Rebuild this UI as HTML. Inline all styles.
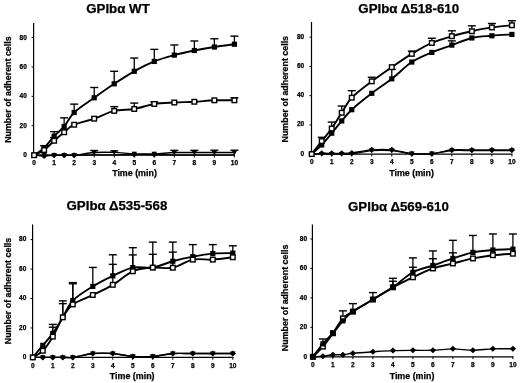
<!DOCTYPE html>
<html><head><meta charset="utf-8"><style>
html,body{margin:0;padding:0;background:#fff;}
body{width:520px;height:383px;overflow:hidden;}
svg{display:block;will-change:transform;filter:blur(0.3px);}
text{font-family:"Liberation Sans", sans-serif;fill:#000;stroke:#000;stroke-width:0.25px;}
</style></head><body>
<svg width="520" height="383" viewBox="0 0 520 383">
<rect width="520" height="383" fill="#fff"/>
<text x="118.00" y="13.00" text-anchor="middle" font-size="13.3" font-weight="bold">GPIbα WT</text>
<line x1="33.60" y1="23.00" x2="33.60" y2="155.80" stroke="#000" stroke-width="1.2"/>
<line x1="33.00" y1="155.20" x2="235.00" y2="155.20" stroke="#000" stroke-width="1.2"/>
<line x1="31.60" y1="155.20" x2="33.60" y2="155.20" stroke="#000" stroke-width="1"/>
<text x="26.85" y="157.33" text-anchor="end" font-size="6.5" font-weight="bold">0</text>
<line x1="31.60" y1="125.76" x2="33.60" y2="125.76" stroke="#000" stroke-width="1"/>
<text x="26.85" y="127.89" text-anchor="end" font-size="6.5" font-weight="bold">20</text>
<line x1="31.60" y1="96.32" x2="33.60" y2="96.32" stroke="#000" stroke-width="1"/>
<text x="26.85" y="98.45" text-anchor="end" font-size="6.5" font-weight="bold">40</text>
<line x1="31.60" y1="66.88" x2="33.60" y2="66.88" stroke="#000" stroke-width="1"/>
<text x="26.85" y="69.01" text-anchor="end" font-size="6.5" font-weight="bold">60</text>
<line x1="31.60" y1="37.44" x2="33.60" y2="37.44" stroke="#000" stroke-width="1"/>
<text x="26.85" y="39.57" text-anchor="end" font-size="6.5" font-weight="bold">80</text>
<line x1="34.10" y1="155.20" x2="34.10" y2="157.50" stroke="#000" stroke-width="1"/>
<text x="34.10" y="165.45" text-anchor="middle" font-size="6.5" font-weight="bold">0</text>
<line x1="54.13" y1="155.20" x2="54.13" y2="157.50" stroke="#000" stroke-width="1"/>
<text x="54.13" y="165.45" text-anchor="middle" font-size="6.5" font-weight="bold">1</text>
<line x1="74.16" y1="155.20" x2="74.16" y2="157.50" stroke="#000" stroke-width="1"/>
<text x="74.16" y="165.45" text-anchor="middle" font-size="6.5" font-weight="bold">2</text>
<line x1="94.19" y1="155.20" x2="94.19" y2="157.50" stroke="#000" stroke-width="1"/>
<text x="94.19" y="165.45" text-anchor="middle" font-size="6.5" font-weight="bold">3</text>
<line x1="114.22" y1="155.20" x2="114.22" y2="157.50" stroke="#000" stroke-width="1"/>
<text x="114.22" y="165.45" text-anchor="middle" font-size="6.5" font-weight="bold">4</text>
<line x1="134.25" y1="155.20" x2="134.25" y2="157.50" stroke="#000" stroke-width="1"/>
<text x="134.25" y="165.45" text-anchor="middle" font-size="6.5" font-weight="bold">5</text>
<line x1="154.28" y1="155.20" x2="154.28" y2="157.50" stroke="#000" stroke-width="1"/>
<text x="154.28" y="165.45" text-anchor="middle" font-size="6.5" font-weight="bold">6</text>
<line x1="174.31" y1="155.20" x2="174.31" y2="157.50" stroke="#000" stroke-width="1"/>
<text x="174.31" y="165.45" text-anchor="middle" font-size="6.5" font-weight="bold">7</text>
<line x1="194.34" y1="155.20" x2="194.34" y2="157.50" stroke="#000" stroke-width="1"/>
<text x="194.34" y="165.45" text-anchor="middle" font-size="6.5" font-weight="bold">8</text>
<line x1="214.37" y1="155.20" x2="214.37" y2="157.50" stroke="#000" stroke-width="1"/>
<text x="214.37" y="165.45" text-anchor="middle" font-size="6.5" font-weight="bold">9</text>
<line x1="234.40" y1="155.20" x2="234.40" y2="157.50" stroke="#000" stroke-width="1"/>
<text x="234.40" y="165.45" text-anchor="middle" font-size="6.5" font-weight="bold">10</text>
<text x="134.50" y="176.40" text-anchor="middle" font-size="8.9" font-weight="bold">Time (min)</text>
<text transform="translate(11.30,89.60) rotate(-90)" x="0" y="0" text-anchor="middle" font-size="8.9" font-weight="bold">Number of adherent cells</text>
<path d="M34.10,155.20 C35.77,153.97 40.78,151.00 44.12,147.84 C47.45,144.68 50.79,139.77 54.13,136.21 C57.47,132.65 60.81,130.45 64.15,126.50 C67.48,122.55 69.15,117.30 74.16,112.51 C79.17,107.73 87.51,102.58 94.19,97.79 C100.87,93.01 107.54,88.22 114.22,83.81 C120.90,79.39 127.57,75.03 134.25,71.30 C140.93,67.57 147.60,64.13 154.28,61.43 C160.96,58.73 167.63,56.92 174.31,55.10 C180.99,53.29 187.66,51.89 194.34,50.54 C201.02,49.19 207.69,48.06 214.37,47.01 C221.05,45.95 231.06,44.68 234.40,44.21" fill="none" stroke="#000" stroke-width="1.90"/>
<path d="M34.10,155.20 C35.77,154.34 40.78,152.45 44.12,150.05 C47.45,147.64 50.79,143.74 54.13,140.77 C57.47,137.81 60.81,134.91 64.15,132.24 C67.48,129.56 69.15,126.99 74.16,124.73 C79.17,122.47 87.51,121.00 94.19,118.69 C100.87,116.39 107.54,112.51 114.22,110.89 C120.90,109.27 127.57,110.13 134.25,108.98 C140.93,107.83 147.60,105.05 154.28,103.97 C160.96,102.89 167.63,102.87 174.31,102.50 C180.99,102.13 187.66,102.13 194.34,101.77 C201.02,101.40 207.69,100.54 214.37,100.29 C221.05,100.05 231.06,100.29 234.40,100.29" fill="none" stroke="#000" stroke-width="1.90"/>
<path d="M34.10,155.20 C35.77,155.20 40.78,155.20 44.12,155.20 C47.45,155.20 50.79,155.20 54.13,155.20 C57.47,155.20 60.81,155.20 64.15,155.20 C67.48,155.20 69.15,155.64 74.16,155.20 C79.17,154.76 87.51,153.02 94.19,152.55 C100.87,152.08 107.54,152.18 114.22,152.40 C120.90,152.62 127.57,153.63 134.25,153.88 C140.93,154.12 147.60,154.10 154.28,153.88 C160.96,153.65 167.63,152.77 174.31,152.55 C180.99,152.33 187.66,152.55 194.34,152.55 C201.02,152.55 207.69,152.55 214.37,152.55 C221.05,152.55 231.06,152.55 234.40,152.55" fill="none" stroke="#000" stroke-width="1.40"/>
<path d="M34.10,155.20 C35.77,155.35 40.78,156.08 44.12,156.08 C47.45,156.08 50.79,155.35 54.13,155.20 C57.47,155.05 60.81,155.20 64.15,155.20 C67.48,155.20 69.15,155.25 74.16,155.20 C79.17,155.15 87.51,154.95 94.19,154.91 C100.87,154.86 107.54,154.95 114.22,154.91 C120.90,154.86 127.57,154.66 134.25,154.61 C140.93,154.56 147.60,154.56 154.28,154.61 C160.96,154.66 167.63,154.86 174.31,154.91 C180.99,154.95 187.66,154.91 194.34,154.91 C201.02,154.91 207.69,154.91 214.37,154.91 C221.05,154.91 231.06,154.91 234.40,154.91" fill="none" stroke="#000" stroke-width="1.40"/>
<line x1="44.12" y1="147.84" x2="44.12" y2="145.63" stroke="#000" stroke-width="1.3"/>
<line x1="40.12" y1="145.63" x2="48.12" y2="145.63" stroke="#000" stroke-width="1.4"/>
<line x1="54.13" y1="136.21" x2="54.13" y2="131.65" stroke="#000" stroke-width="1.3"/>
<line x1="50.13" y1="131.65" x2="58.13" y2="131.65" stroke="#000" stroke-width="1.4"/>
<line x1="64.15" y1="126.50" x2="64.15" y2="117.81" stroke="#000" stroke-width="1.3"/>
<line x1="60.15" y1="117.81" x2="68.15" y2="117.81" stroke="#000" stroke-width="1.4"/>
<line x1="74.16" y1="112.51" x2="74.16" y2="104.12" stroke="#000" stroke-width="1.3"/>
<line x1="70.16" y1="104.12" x2="78.16" y2="104.12" stroke="#000" stroke-width="1.4"/>
<line x1="94.19" y1="97.79" x2="94.19" y2="87.49" stroke="#000" stroke-width="1.3"/>
<line x1="90.19" y1="87.49" x2="98.19" y2="87.49" stroke="#000" stroke-width="1.4"/>
<line x1="114.22" y1="83.81" x2="114.22" y2="71.30" stroke="#000" stroke-width="1.3"/>
<line x1="110.22" y1="71.30" x2="118.22" y2="71.30" stroke="#000" stroke-width="1.4"/>
<line x1="134.25" y1="71.30" x2="134.25" y2="58.05" stroke="#000" stroke-width="1.3"/>
<line x1="130.25" y1="58.05" x2="138.25" y2="58.05" stroke="#000" stroke-width="1.4"/>
<line x1="154.28" y1="61.43" x2="154.28" y2="49.36" stroke="#000" stroke-width="1.3"/>
<line x1="150.28" y1="49.36" x2="158.28" y2="49.36" stroke="#000" stroke-width="1.4"/>
<line x1="174.31" y1="55.10" x2="174.31" y2="44.95" stroke="#000" stroke-width="1.3"/>
<line x1="170.31" y1="44.95" x2="178.31" y2="44.95" stroke="#000" stroke-width="1.4"/>
<line x1="194.34" y1="50.54" x2="194.34" y2="40.97" stroke="#000" stroke-width="1.3"/>
<line x1="190.34" y1="40.97" x2="198.34" y2="40.97" stroke="#000" stroke-width="1.4"/>
<line x1="214.37" y1="47.01" x2="214.37" y2="38.76" stroke="#000" stroke-width="1.3"/>
<line x1="210.37" y1="38.76" x2="218.37" y2="38.76" stroke="#000" stroke-width="1.4"/>
<line x1="234.40" y1="44.21" x2="234.40" y2="36.12" stroke="#000" stroke-width="1.3"/>
<line x1="230.40" y1="36.12" x2="238.40" y2="36.12" stroke="#000" stroke-width="1.4"/>
<line x1="54.13" y1="140.77" x2="54.13" y2="137.54" stroke="#000" stroke-width="1.3"/>
<line x1="50.13" y1="137.54" x2="58.13" y2="137.54" stroke="#000" stroke-width="1.4"/>
<line x1="64.15" y1="132.24" x2="64.15" y2="129.44" stroke="#000" stroke-width="1.3"/>
<line x1="60.15" y1="129.44" x2="68.15" y2="129.44" stroke="#000" stroke-width="1.4"/>
<line x1="114.22" y1="110.89" x2="114.22" y2="106.62" stroke="#000" stroke-width="1.3"/>
<line x1="110.22" y1="106.62" x2="118.22" y2="106.62" stroke="#000" stroke-width="1.4"/>
<line x1="134.25" y1="108.98" x2="134.25" y2="103.09" stroke="#000" stroke-width="1.3"/>
<line x1="130.25" y1="103.09" x2="138.25" y2="103.09" stroke="#000" stroke-width="1.4"/>
<line x1="154.28" y1="103.97" x2="154.28" y2="101.91" stroke="#000" stroke-width="1.3"/>
<line x1="150.28" y1="101.91" x2="158.28" y2="101.91" stroke="#000" stroke-width="1.4"/>
<line x1="234.40" y1="100.29" x2="234.40" y2="97.79" stroke="#000" stroke-width="1.3"/>
<line x1="230.40" y1="97.79" x2="238.40" y2="97.79" stroke="#000" stroke-width="1.4"/>
<line x1="94.19" y1="152.55" x2="94.19" y2="150.49" stroke="#000" stroke-width="1.3"/>
<line x1="90.19" y1="150.49" x2="98.19" y2="150.49" stroke="#000" stroke-width="1.4"/>
<line x1="114.22" y1="152.40" x2="114.22" y2="150.93" stroke="#000" stroke-width="1.3"/>
<line x1="110.22" y1="150.93" x2="118.22" y2="150.93" stroke="#000" stroke-width="1.4"/>
<line x1="174.31" y1="152.55" x2="174.31" y2="150.34" stroke="#000" stroke-width="1.3"/>
<line x1="170.31" y1="150.34" x2="178.31" y2="150.34" stroke="#000" stroke-width="1.4"/>
<line x1="194.34" y1="152.55" x2="194.34" y2="150.34" stroke="#000" stroke-width="1.3"/>
<line x1="190.34" y1="150.34" x2="198.34" y2="150.34" stroke="#000" stroke-width="1.4"/>
<line x1="214.37" y1="152.55" x2="214.37" y2="150.20" stroke="#000" stroke-width="1.3"/>
<line x1="210.37" y1="150.20" x2="218.37" y2="150.20" stroke="#000" stroke-width="1.4"/>
<line x1="234.40" y1="152.55" x2="234.40" y2="150.20" stroke="#000" stroke-width="1.3"/>
<line x1="230.40" y1="150.20" x2="238.40" y2="150.20" stroke="#000" stroke-width="1.4"/>
<path d="M30.90,155.20L34.10,152.20L37.30,155.20L34.10,158.20Z" fill="#000"/>
<path d="M40.91,156.08L44.12,153.08L47.32,156.08L44.12,159.08Z" fill="#000"/>
<path d="M50.93,155.20L54.13,152.20L57.33,155.20L54.13,158.20Z" fill="#000"/>
<path d="M60.95,155.20L64.15,152.20L67.35,155.20L64.15,158.20Z" fill="#000"/>
<path d="M70.96,155.20L74.16,152.20L77.36,155.20L74.16,158.20Z" fill="#000"/>
<path d="M131.05,154.61L134.25,151.61L137.45,154.61L134.25,157.61Z" fill="#000"/>
<path d="M151.08,154.61L154.28,151.61L157.48,154.61L154.28,157.61Z" fill="#000"/>
<path d="M31.30,153.04L36.90,153.04L34.10,157.84Z" fill="#000"/>
<path d="M41.32,153.04L46.91,153.04L44.12,157.84Z" fill="#000"/>
<path d="M51.33,153.04L56.93,153.04L54.13,157.84Z" fill="#000"/>
<path d="M61.35,153.04L66.95,153.04L64.15,157.84Z" fill="#000"/>
<path d="M71.36,153.04L76.96,153.04L74.16,157.84Z" fill="#000"/>
<path d="M91.39,150.39L96.99,150.39L94.19,155.19Z" fill="#000"/>
<path d="M111.42,150.24L117.02,150.24L114.22,155.04Z" fill="#000"/>
<path d="M131.45,151.72L137.05,151.72L134.25,156.52Z" fill="#000"/>
<path d="M151.48,151.72L157.08,151.72L154.28,156.52Z" fill="#000"/>
<path d="M171.51,150.39L177.11,150.39L174.31,155.19Z" fill="#000"/>
<path d="M191.54,150.39L197.14,150.39L194.34,155.19Z" fill="#000"/>
<path d="M211.57,150.39L217.17,150.39L214.37,155.19Z" fill="#000"/>
<path d="M231.60,150.39L237.20,150.39L234.40,155.19Z" fill="#000"/>
<rect x="31.50" y="152.60" width="5.20" height="5.20" fill="#000"/>
<rect x="41.52" y="145.24" width="5.20" height="5.20" fill="#000"/>
<rect x="51.53" y="133.61" width="5.20" height="5.20" fill="#000"/>
<rect x="61.55" y="123.90" width="5.20" height="5.20" fill="#000"/>
<rect x="71.56" y="109.91" width="5.20" height="5.20" fill="#000"/>
<rect x="91.59" y="95.19" width="5.20" height="5.20" fill="#000"/>
<rect x="111.62" y="81.21" width="5.20" height="5.20" fill="#000"/>
<rect x="131.65" y="68.70" width="5.20" height="5.20" fill="#000"/>
<rect x="151.68" y="58.83" width="5.20" height="5.20" fill="#000"/>
<rect x="171.71" y="52.50" width="5.20" height="5.20" fill="#000"/>
<rect x="191.74" y="47.94" width="5.20" height="5.20" fill="#000"/>
<rect x="211.77" y="44.41" width="5.20" height="5.20" fill="#000"/>
<rect x="231.80" y="41.61" width="5.20" height="5.20" fill="#000"/>
<rect x="31.80" y="152.90" width="4.60" height="4.60" fill="#fff" stroke="#000" stroke-width="1.4"/>
<rect x="41.82" y="147.75" width="4.60" height="4.60" fill="#fff" stroke="#000" stroke-width="1.4"/>
<rect x="51.83" y="138.47" width="4.60" height="4.60" fill="#fff" stroke="#000" stroke-width="1.4"/>
<rect x="61.85" y="129.94" width="4.60" height="4.60" fill="#fff" stroke="#000" stroke-width="1.4"/>
<rect x="71.86" y="122.43" width="4.60" height="4.60" fill="#fff" stroke="#000" stroke-width="1.4"/>
<rect x="91.89" y="116.39" width="4.60" height="4.60" fill="#fff" stroke="#000" stroke-width="1.4"/>
<rect x="111.92" y="108.59" width="4.60" height="4.60" fill="#fff" stroke="#000" stroke-width="1.4"/>
<rect x="131.95" y="106.68" width="4.60" height="4.60" fill="#fff" stroke="#000" stroke-width="1.4"/>
<rect x="151.98" y="101.67" width="4.60" height="4.60" fill="#fff" stroke="#000" stroke-width="1.4"/>
<rect x="172.01" y="100.20" width="4.60" height="4.60" fill="#fff" stroke="#000" stroke-width="1.4"/>
<rect x="192.04" y="99.47" width="4.60" height="4.60" fill="#fff" stroke="#000" stroke-width="1.4"/>
<rect x="212.07" y="97.99" width="4.60" height="4.60" fill="#fff" stroke="#000" stroke-width="1.4"/>
<rect x="232.10" y="97.99" width="4.60" height="4.60" fill="#fff" stroke="#000" stroke-width="1.4"/>
<text x="408.70" y="13.20" text-anchor="middle" font-size="13.3" font-weight="bold">GPIbα Δ518-610</text>
<line x1="311.50" y1="22.00" x2="311.50" y2="154.70" stroke="#000" stroke-width="1.2"/>
<line x1="310.90" y1="154.10" x2="512.50" y2="154.10" stroke="#000" stroke-width="1.2"/>
<line x1="309.50" y1="154.10" x2="311.50" y2="154.10" stroke="#000" stroke-width="1"/>
<text x="304.15" y="155.63" text-anchor="end" font-size="6.5" font-weight="bold">0</text>
<line x1="309.50" y1="124.88" x2="311.50" y2="124.88" stroke="#000" stroke-width="1"/>
<text x="304.15" y="126.41" text-anchor="end" font-size="6.5" font-weight="bold">20</text>
<line x1="309.50" y1="95.66" x2="311.50" y2="95.66" stroke="#000" stroke-width="1"/>
<text x="304.15" y="97.19" text-anchor="end" font-size="6.5" font-weight="bold">40</text>
<line x1="309.50" y1="66.44" x2="311.50" y2="66.44" stroke="#000" stroke-width="1"/>
<text x="304.15" y="67.97" text-anchor="end" font-size="6.5" font-weight="bold">60</text>
<line x1="309.50" y1="37.22" x2="311.50" y2="37.22" stroke="#000" stroke-width="1"/>
<text x="304.15" y="38.75" text-anchor="end" font-size="6.5" font-weight="bold">80</text>
<line x1="311.70" y1="154.10" x2="311.70" y2="156.40" stroke="#000" stroke-width="1"/>
<text x="311.70" y="164.35" text-anchor="middle" font-size="6.5" font-weight="bold">0</text>
<line x1="331.72" y1="154.10" x2="331.72" y2="156.40" stroke="#000" stroke-width="1"/>
<text x="331.72" y="164.35" text-anchor="middle" font-size="6.5" font-weight="bold">1</text>
<line x1="351.74" y1="154.10" x2="351.74" y2="156.40" stroke="#000" stroke-width="1"/>
<text x="351.74" y="164.35" text-anchor="middle" font-size="6.5" font-weight="bold">2</text>
<line x1="371.76" y1="154.10" x2="371.76" y2="156.40" stroke="#000" stroke-width="1"/>
<text x="371.76" y="164.35" text-anchor="middle" font-size="6.5" font-weight="bold">3</text>
<line x1="391.78" y1="154.10" x2="391.78" y2="156.40" stroke="#000" stroke-width="1"/>
<text x="391.78" y="164.35" text-anchor="middle" font-size="6.5" font-weight="bold">4</text>
<line x1="411.80" y1="154.10" x2="411.80" y2="156.40" stroke="#000" stroke-width="1"/>
<text x="411.80" y="164.35" text-anchor="middle" font-size="6.5" font-weight="bold">5</text>
<line x1="431.82" y1="154.10" x2="431.82" y2="156.40" stroke="#000" stroke-width="1"/>
<text x="431.82" y="164.35" text-anchor="middle" font-size="6.5" font-weight="bold">6</text>
<line x1="451.84" y1="154.10" x2="451.84" y2="156.40" stroke="#000" stroke-width="1"/>
<text x="451.84" y="164.35" text-anchor="middle" font-size="6.5" font-weight="bold">7</text>
<line x1="471.86" y1="154.10" x2="471.86" y2="156.40" stroke="#000" stroke-width="1"/>
<text x="471.86" y="164.35" text-anchor="middle" font-size="6.5" font-weight="bold">8</text>
<line x1="491.88" y1="154.10" x2="491.88" y2="156.40" stroke="#000" stroke-width="1"/>
<text x="491.88" y="164.35" text-anchor="middle" font-size="6.5" font-weight="bold">9</text>
<line x1="511.90" y1="154.10" x2="511.90" y2="156.40" stroke="#000" stroke-width="1"/>
<text x="511.90" y="164.35" text-anchor="middle" font-size="6.5" font-weight="bold">10</text>
<text x="411.60" y="176.40" text-anchor="middle" font-size="8.9" font-weight="bold">Time (min)</text>
<text transform="translate(288.00,89.20) rotate(-90)" x="0" y="0" text-anchor="middle" font-size="8.9" font-weight="bold">Number of adherent cells</text>
<path d="M311.70,154.10 C313.37,152.57 318.37,148.38 321.71,144.90 C325.05,141.41 328.38,137.20 331.72,133.21 C335.06,129.21 338.39,124.86 341.73,120.94 C345.07,117.01 346.74,114.29 351.74,109.69 C356.75,105.08 365.09,98.46 371.76,93.32 C378.43,88.18 385.11,84.07 391.78,78.86 C398.45,73.65 405.13,66.46 411.80,62.06 C418.47,57.65 425.15,55.24 431.82,52.41 C438.49,49.59 445.17,47.52 451.84,45.11 C458.51,42.70 465.19,39.51 471.86,37.95 C478.53,36.39 485.21,36.34 491.88,35.76 C498.55,35.17 508.56,34.66 511.90,34.44" fill="none" stroke="#000" stroke-width="1.90"/>
<path d="M311.70,154.10 C313.37,151.93 318.37,145.36 321.71,141.10 C325.05,136.84 328.38,133.26 331.72,128.53 C335.06,123.81 338.39,117.89 341.73,112.75 C345.07,107.62 346.74,102.94 351.74,97.71 C356.75,92.47 365.09,86.43 371.76,81.34 C378.43,76.25 385.11,71.75 391.78,67.17 C398.45,62.59 405.13,57.92 411.80,53.88 C418.47,49.83 425.15,45.86 431.82,42.92 C438.49,39.97 445.17,38.15 451.84,36.20 C458.51,34.25 465.19,32.69 471.86,31.23 C478.53,29.77 485.21,28.43 491.88,27.43 C498.55,26.43 508.56,25.61 511.90,25.24" fill="none" stroke="#000" stroke-width="1.90"/>
<path d="M311.70,154.10 C313.37,154.10 318.37,154.10 321.71,154.10 C325.05,154.10 328.38,154.10 331.72,154.10 C335.06,154.10 338.39,154.10 341.73,154.10 C345.07,154.10 346.74,154.68 351.74,154.10 C356.75,153.52 365.09,151.18 371.76,150.59 C378.43,150.01 385.11,150.08 391.78,150.59 C398.45,151.10 405.13,153.15 411.80,153.66 C418.47,154.17 425.15,154.17 431.82,153.66 C438.49,153.15 445.17,151.10 451.84,150.59 C458.51,150.08 465.19,150.59 471.86,150.59 C478.53,150.59 485.21,150.59 491.88,150.59 C498.55,150.59 508.56,150.59 511.90,150.59" fill="none" stroke="#000" stroke-width="1.40"/>
<path d="M311.70,154.10 C313.37,153.98 318.37,153.49 321.71,153.37 C325.05,153.25 328.38,153.37 331.72,153.37 C335.06,153.37 338.39,153.44 341.73,153.37 C345.07,153.30 346.74,153.52 351.74,152.93 C356.75,152.35 365.09,150.37 371.76,149.86 C378.43,149.35 385.11,149.23 391.78,149.86 C398.45,150.50 405.13,153.03 411.80,153.66 C418.47,154.29 425.15,154.27 431.82,153.66 C438.49,153.05 445.17,150.62 451.84,150.01 C458.51,149.40 465.19,150.01 471.86,150.01 C478.53,150.01 485.21,150.01 491.88,150.01 C498.55,150.01 508.56,150.01 511.90,150.01" fill="none" stroke="#000" stroke-width="1.40"/>
<line x1="391.78" y1="78.86" x2="391.78" y2="69.36" stroke="#000" stroke-width="1.3"/>
<line x1="387.78" y1="69.36" x2="395.78" y2="69.36" stroke="#000" stroke-width="1.4"/>
<line x1="451.84" y1="45.11" x2="451.84" y2="40.87" stroke="#000" stroke-width="1.3"/>
<line x1="447.84" y1="40.87" x2="455.84" y2="40.87" stroke="#000" stroke-width="1.4"/>
<line x1="321.71" y1="141.10" x2="321.71" y2="137.30" stroke="#000" stroke-width="1.3"/>
<line x1="317.71" y1="137.30" x2="325.71" y2="137.30" stroke="#000" stroke-width="1.4"/>
<line x1="331.72" y1="128.53" x2="331.72" y2="122.10" stroke="#000" stroke-width="1.3"/>
<line x1="327.72" y1="122.10" x2="335.72" y2="122.10" stroke="#000" stroke-width="1.4"/>
<line x1="341.73" y1="112.75" x2="341.73" y2="106.03" stroke="#000" stroke-width="1.3"/>
<line x1="337.73" y1="106.03" x2="345.73" y2="106.03" stroke="#000" stroke-width="1.4"/>
<line x1="351.74" y1="97.71" x2="351.74" y2="90.69" stroke="#000" stroke-width="1.3"/>
<line x1="347.74" y1="90.69" x2="355.74" y2="90.69" stroke="#000" stroke-width="1.4"/>
<line x1="371.76" y1="81.34" x2="371.76" y2="77.25" stroke="#000" stroke-width="1.3"/>
<line x1="367.76" y1="77.25" x2="375.76" y2="77.25" stroke="#000" stroke-width="1.4"/>
<line x1="411.80" y1="53.88" x2="411.80" y2="51.10" stroke="#000" stroke-width="1.3"/>
<line x1="407.80" y1="51.10" x2="415.80" y2="51.10" stroke="#000" stroke-width="1.4"/>
<line x1="431.82" y1="42.92" x2="431.82" y2="38.24" stroke="#000" stroke-width="1.3"/>
<line x1="427.82" y1="38.24" x2="435.82" y2="38.24" stroke="#000" stroke-width="1.4"/>
<line x1="451.84" y1="36.20" x2="451.84" y2="30.79" stroke="#000" stroke-width="1.3"/>
<line x1="447.84" y1="30.79" x2="455.84" y2="30.79" stroke="#000" stroke-width="1.4"/>
<line x1="471.86" y1="31.23" x2="471.86" y2="25.82" stroke="#000" stroke-width="1.3"/>
<line x1="467.86" y1="25.82" x2="475.86" y2="25.82" stroke="#000" stroke-width="1.4"/>
<line x1="491.88" y1="27.43" x2="491.88" y2="23.49" stroke="#000" stroke-width="1.3"/>
<line x1="487.88" y1="23.49" x2="495.88" y2="23.49" stroke="#000" stroke-width="1.4"/>
<line x1="511.90" y1="25.24" x2="511.90" y2="20.71" stroke="#000" stroke-width="1.3"/>
<line x1="507.90" y1="20.71" x2="515.90" y2="20.71" stroke="#000" stroke-width="1.4"/>
<path d="M308.50,154.10L311.70,151.10L314.90,154.10L311.70,157.10Z" fill="#000"/>
<path d="M318.51,153.37L321.71,150.37L324.91,153.37L321.71,156.37Z" fill="#000"/>
<path d="M328.52,153.37L331.72,150.37L334.92,153.37L331.72,156.37Z" fill="#000"/>
<path d="M338.53,153.37L341.73,150.37L344.93,153.37L341.73,156.37Z" fill="#000"/>
<path d="M348.54,152.93L351.74,149.93L354.94,152.93L351.74,155.93Z" fill="#000"/>
<path d="M368.56,149.86L371.76,146.86L374.96,149.86L371.76,152.86Z" fill="#000"/>
<path d="M388.58,149.86L391.78,146.86L394.98,149.86L391.78,152.86Z" fill="#000"/>
<path d="M408.60,153.66L411.80,150.66L415.00,153.66L411.80,156.66Z" fill="#000"/>
<path d="M428.62,153.66L431.82,150.66L435.02,153.66L431.82,156.66Z" fill="#000"/>
<path d="M448.64,150.01L451.84,147.01L455.04,150.01L451.84,153.01Z" fill="#000"/>
<path d="M468.66,150.01L471.86,147.01L475.06,150.01L471.86,153.01Z" fill="#000"/>
<path d="M488.68,150.01L491.88,147.01L495.08,150.01L491.88,153.01Z" fill="#000"/>
<path d="M508.70,150.01L511.90,147.01L515.10,150.01L511.90,153.01Z" fill="#000"/>
<path d="M308.90,151.94L314.50,151.94L311.70,156.74Z" fill="#000"/>
<path d="M318.91,151.94L324.51,151.94L321.71,156.74Z" fill="#000"/>
<path d="M328.92,151.94L334.52,151.94L331.72,156.74Z" fill="#000"/>
<path d="M338.93,151.94L344.53,151.94L341.73,156.74Z" fill="#000"/>
<path d="M348.94,151.94L354.54,151.94L351.74,156.74Z" fill="#000"/>
<path d="M368.96,148.43L374.56,148.43L371.76,153.23Z" fill="#000"/>
<path d="M388.98,148.43L394.58,148.43L391.78,153.23Z" fill="#000"/>
<path d="M409.00,151.50L414.60,151.50L411.80,156.30Z" fill="#000"/>
<path d="M429.02,151.50L434.62,151.50L431.82,156.30Z" fill="#000"/>
<path d="M449.04,148.43L454.64,148.43L451.84,153.23Z" fill="#000"/>
<path d="M469.06,148.43L474.66,148.43L471.86,153.23Z" fill="#000"/>
<path d="M489.08,148.43L494.68,148.43L491.88,153.23Z" fill="#000"/>
<path d="M509.10,148.43L514.70,148.43L511.90,153.23Z" fill="#000"/>
<rect x="309.10" y="151.50" width="5.20" height="5.20" fill="#000"/>
<rect x="319.11" y="142.30" width="5.20" height="5.20" fill="#000"/>
<rect x="329.12" y="130.61" width="5.20" height="5.20" fill="#000"/>
<rect x="339.13" y="118.34" width="5.20" height="5.20" fill="#000"/>
<rect x="349.14" y="107.09" width="5.20" height="5.20" fill="#000"/>
<rect x="369.16" y="90.72" width="5.20" height="5.20" fill="#000"/>
<rect x="389.18" y="76.26" width="5.20" height="5.20" fill="#000"/>
<rect x="409.20" y="59.46" width="5.20" height="5.20" fill="#000"/>
<rect x="429.22" y="49.81" width="5.20" height="5.20" fill="#000"/>
<rect x="449.24" y="42.51" width="5.20" height="5.20" fill="#000"/>
<rect x="469.26" y="35.35" width="5.20" height="5.20" fill="#000"/>
<rect x="489.28" y="33.16" width="5.20" height="5.20" fill="#000"/>
<rect x="509.30" y="31.84" width="5.20" height="5.20" fill="#000"/>
<rect x="309.40" y="151.80" width="4.60" height="4.60" fill="#fff" stroke="#000" stroke-width="1.4"/>
<rect x="319.41" y="138.80" width="4.60" height="4.60" fill="#fff" stroke="#000" stroke-width="1.4"/>
<rect x="329.42" y="126.23" width="4.60" height="4.60" fill="#fff" stroke="#000" stroke-width="1.4"/>
<rect x="339.43" y="110.45" width="4.60" height="4.60" fill="#fff" stroke="#000" stroke-width="1.4"/>
<rect x="349.44" y="95.41" width="4.60" height="4.60" fill="#fff" stroke="#000" stroke-width="1.4"/>
<rect x="369.46" y="79.04" width="4.60" height="4.60" fill="#fff" stroke="#000" stroke-width="1.4"/>
<rect x="389.48" y="64.87" width="4.60" height="4.60" fill="#fff" stroke="#000" stroke-width="1.4"/>
<rect x="409.50" y="51.58" width="4.60" height="4.60" fill="#fff" stroke="#000" stroke-width="1.4"/>
<rect x="429.52" y="40.62" width="4.60" height="4.60" fill="#fff" stroke="#000" stroke-width="1.4"/>
<rect x="449.54" y="33.90" width="4.60" height="4.60" fill="#fff" stroke="#000" stroke-width="1.4"/>
<rect x="469.56" y="28.93" width="4.60" height="4.60" fill="#fff" stroke="#000" stroke-width="1.4"/>
<rect x="489.58" y="25.13" width="4.60" height="4.60" fill="#fff" stroke="#000" stroke-width="1.4"/>
<rect x="509.60" y="22.94" width="4.60" height="4.60" fill="#fff" stroke="#000" stroke-width="1.4"/>
<text x="116.90" y="210.00" text-anchor="middle" font-size="13.3" font-weight="bold">GPIbα Δ535-568</text>
<line x1="32.60" y1="224.40" x2="32.60" y2="358.00" stroke="#000" stroke-width="1.2"/>
<line x1="32.00" y1="357.40" x2="233.40" y2="357.40" stroke="#000" stroke-width="1.2"/>
<line x1="30.60" y1="357.40" x2="32.60" y2="357.40" stroke="#000" stroke-width="1"/>
<text x="26.35" y="359.03" text-anchor="end" font-size="6.5" font-weight="bold">0</text>
<line x1="30.60" y1="327.95" x2="32.60" y2="327.95" stroke="#000" stroke-width="1"/>
<text x="26.35" y="329.58" text-anchor="end" font-size="6.5" font-weight="bold">20</text>
<line x1="30.60" y1="298.50" x2="32.60" y2="298.50" stroke="#000" stroke-width="1"/>
<text x="26.35" y="300.13" text-anchor="end" font-size="6.5" font-weight="bold">40</text>
<line x1="30.60" y1="269.05" x2="32.60" y2="269.05" stroke="#000" stroke-width="1"/>
<text x="26.35" y="270.68" text-anchor="end" font-size="6.5" font-weight="bold">60</text>
<line x1="30.60" y1="239.60" x2="32.60" y2="239.60" stroke="#000" stroke-width="1"/>
<text x="26.35" y="241.23" text-anchor="end" font-size="6.5" font-weight="bold">80</text>
<line x1="32.80" y1="357.40" x2="32.80" y2="359.70" stroke="#000" stroke-width="1"/>
<text x="32.80" y="367.65" text-anchor="middle" font-size="6.5" font-weight="bold">0</text>
<line x1="52.80" y1="357.40" x2="52.80" y2="359.70" stroke="#000" stroke-width="1"/>
<text x="52.80" y="367.65" text-anchor="middle" font-size="6.5" font-weight="bold">1</text>
<line x1="72.80" y1="357.40" x2="72.80" y2="359.70" stroke="#000" stroke-width="1"/>
<text x="72.80" y="367.65" text-anchor="middle" font-size="6.5" font-weight="bold">2</text>
<line x1="92.80" y1="357.40" x2="92.80" y2="359.70" stroke="#000" stroke-width="1"/>
<text x="92.80" y="367.65" text-anchor="middle" font-size="6.5" font-weight="bold">3</text>
<line x1="112.80" y1="357.40" x2="112.80" y2="359.70" stroke="#000" stroke-width="1"/>
<text x="112.80" y="367.65" text-anchor="middle" font-size="6.5" font-weight="bold">4</text>
<line x1="132.80" y1="357.40" x2="132.80" y2="359.70" stroke="#000" stroke-width="1"/>
<text x="132.80" y="367.65" text-anchor="middle" font-size="6.5" font-weight="bold">5</text>
<line x1="152.80" y1="357.40" x2="152.80" y2="359.70" stroke="#000" stroke-width="1"/>
<text x="152.80" y="367.65" text-anchor="middle" font-size="6.5" font-weight="bold">6</text>
<line x1="172.80" y1="357.40" x2="172.80" y2="359.70" stroke="#000" stroke-width="1"/>
<text x="172.80" y="367.65" text-anchor="middle" font-size="6.5" font-weight="bold">7</text>
<line x1="192.80" y1="357.40" x2="192.80" y2="359.70" stroke="#000" stroke-width="1"/>
<text x="192.80" y="367.65" text-anchor="middle" font-size="6.5" font-weight="bold">8</text>
<line x1="212.80" y1="357.40" x2="212.80" y2="359.70" stroke="#000" stroke-width="1"/>
<text x="212.80" y="367.65" text-anchor="middle" font-size="6.5" font-weight="bold">9</text>
<line x1="232.80" y1="357.40" x2="232.80" y2="359.70" stroke="#000" stroke-width="1"/>
<text x="232.80" y="367.65" text-anchor="middle" font-size="6.5" font-weight="bold">10</text>
<text x="132.20" y="379.40" text-anchor="middle" font-size="8.9" font-weight="bold">Time (min)</text>
<text transform="translate(10.70,291.00) rotate(-90)" x="0" y="0" text-anchor="middle" font-size="8.9" font-weight="bold">Number of adherent cells</text>
<path d="M32.80,357.40 C34.47,355.39 39.47,349.33 42.80,345.33 C46.13,341.33 49.47,338.06 52.80,333.40 C56.13,328.74 59.47,322.82 62.80,317.35 C66.13,311.88 67.80,305.72 72.80,300.56 C77.80,295.41 86.13,290.55 92.80,286.43 C99.47,282.30 106.13,278.96 112.80,275.82 C119.47,272.68 126.13,268.95 132.80,267.58 C139.47,266.20 146.13,268.63 152.80,267.58 C159.47,266.52 166.13,263.06 172.80,261.25 C179.47,259.43 186.13,257.96 192.80,256.68 C199.47,255.40 206.13,254.18 212.80,253.59 C219.47,253.00 229.47,253.22 232.80,253.15" fill="none" stroke="#000" stroke-width="1.90"/>
<path d="M32.80,357.40 C34.47,356.30 39.47,354.23 42.80,350.77 C46.13,347.31 49.47,342.21 52.80,336.64 C56.13,331.07 59.47,322.72 62.80,317.35 C66.13,311.97 67.80,308.12 72.80,304.39 C77.80,300.66 86.13,298.23 92.80,294.97 C99.47,291.70 106.13,288.76 112.80,284.81 C119.47,280.85 126.13,274.13 132.80,271.26 C139.47,268.39 146.13,268.17 152.80,267.58 C159.47,266.99 166.13,269.05 172.80,267.72 C179.47,266.40 186.13,260.98 192.80,259.63 C199.47,258.28 206.13,260.02 212.80,259.63 C219.47,259.23 229.47,257.66 232.80,257.27" fill="none" stroke="#000" stroke-width="1.90"/>
<path d="M32.80,357.40 C34.47,357.40 39.47,357.40 42.80,357.40 C46.13,357.40 49.47,357.40 52.80,357.40 C56.13,357.40 59.47,357.40 62.80,357.40 C66.13,357.40 67.80,358.04 72.80,357.40 C77.80,356.76 86.13,354.21 92.80,353.57 C99.47,352.93 106.13,353.08 112.80,353.57 C119.47,354.06 126.13,356.03 132.80,356.52 C139.47,357.01 146.13,357.01 152.80,356.52 C159.47,356.03 166.13,354.06 172.80,353.57 C179.47,353.08 186.13,353.57 192.80,353.57 C199.47,353.57 206.13,353.57 212.80,353.57 C219.47,353.57 229.47,353.57 232.80,353.57" fill="none" stroke="#000" stroke-width="1.40"/>
<path d="M32.80,357.40 C34.47,357.40 39.47,357.40 42.80,357.40 C46.13,357.40 49.47,357.40 52.80,357.40 C56.13,357.40 59.47,357.40 62.80,357.40 C66.13,357.40 67.80,358.04 72.80,357.40 C77.80,356.76 86.13,354.21 92.80,353.57 C99.47,352.93 106.13,353.08 112.80,353.57 C119.47,354.06 126.13,356.03 132.80,356.52 C139.47,357.01 146.13,357.01 152.80,356.52 C159.47,356.03 166.13,354.06 172.80,353.57 C179.47,353.08 186.13,353.57 192.80,353.57 C199.47,353.57 206.13,353.57 212.80,353.57 C219.47,353.57 229.47,353.57 232.80,353.57" fill="none" stroke="#000" stroke-width="1.40"/>
<line x1="52.80" y1="333.40" x2="52.80" y2="324.42" stroke="#000" stroke-width="1.3"/>
<line x1="48.80" y1="324.42" x2="56.80" y2="324.42" stroke="#000" stroke-width="1.4"/>
<line x1="62.80" y1="317.35" x2="62.80" y2="300.86" stroke="#000" stroke-width="1.3"/>
<line x1="58.80" y1="300.86" x2="66.80" y2="300.86" stroke="#000" stroke-width="1.4"/>
<line x1="72.80" y1="300.56" x2="72.80" y2="282.60" stroke="#000" stroke-width="1.3"/>
<line x1="68.80" y1="282.60" x2="76.80" y2="282.60" stroke="#000" stroke-width="1.4"/>
<line x1="92.80" y1="286.43" x2="92.80" y2="267.43" stroke="#000" stroke-width="1.3"/>
<line x1="88.80" y1="267.43" x2="96.80" y2="267.43" stroke="#000" stroke-width="1.4"/>
<line x1="112.80" y1="275.82" x2="112.80" y2="254.77" stroke="#000" stroke-width="1.3"/>
<line x1="108.80" y1="254.77" x2="116.80" y2="254.77" stroke="#000" stroke-width="1.4"/>
<line x1="132.80" y1="267.58" x2="132.80" y2="247.70" stroke="#000" stroke-width="1.3"/>
<line x1="128.80" y1="247.70" x2="136.80" y2="247.70" stroke="#000" stroke-width="1.4"/>
<line x1="152.80" y1="267.58" x2="152.80" y2="242.10" stroke="#000" stroke-width="1.3"/>
<line x1="148.80" y1="242.10" x2="156.80" y2="242.10" stroke="#000" stroke-width="1.4"/>
<line x1="172.80" y1="261.25" x2="172.80" y2="242.10" stroke="#000" stroke-width="1.3"/>
<line x1="168.80" y1="242.10" x2="176.80" y2="242.10" stroke="#000" stroke-width="1.4"/>
<line x1="192.80" y1="256.68" x2="192.80" y2="244.61" stroke="#000" stroke-width="1.3"/>
<line x1="188.80" y1="244.61" x2="196.80" y2="244.61" stroke="#000" stroke-width="1.4"/>
<line x1="212.80" y1="253.59" x2="212.80" y2="244.61" stroke="#000" stroke-width="1.3"/>
<line x1="208.80" y1="244.61" x2="216.80" y2="244.61" stroke="#000" stroke-width="1.4"/>
<line x1="232.80" y1="253.15" x2="232.80" y2="245.78" stroke="#000" stroke-width="1.3"/>
<line x1="228.80" y1="245.78" x2="236.80" y2="245.78" stroke="#000" stroke-width="1.4"/>
<line x1="52.80" y1="336.64" x2="52.80" y2="327.21" stroke="#000" stroke-width="1.3"/>
<line x1="48.80" y1="327.21" x2="56.80" y2="327.21" stroke="#000" stroke-width="1.4"/>
<line x1="62.80" y1="317.35" x2="62.80" y2="303.65" stroke="#000" stroke-width="1.3"/>
<line x1="58.80" y1="303.65" x2="66.80" y2="303.65" stroke="#000" stroke-width="1.4"/>
<line x1="72.80" y1="304.39" x2="72.80" y2="283.77" stroke="#000" stroke-width="1.3"/>
<line x1="68.80" y1="283.77" x2="76.80" y2="283.77" stroke="#000" stroke-width="1.4"/>
<line x1="112.80" y1="284.81" x2="112.80" y2="264.34" stroke="#000" stroke-width="1.3"/>
<line x1="108.80" y1="264.34" x2="116.80" y2="264.34" stroke="#000" stroke-width="1.4"/>
<line x1="132.80" y1="271.26" x2="132.80" y2="254.91" stroke="#000" stroke-width="1.3"/>
<line x1="128.80" y1="254.91" x2="136.80" y2="254.91" stroke="#000" stroke-width="1.4"/>
<line x1="152.80" y1="267.58" x2="152.80" y2="254.32" stroke="#000" stroke-width="1.3"/>
<line x1="148.80" y1="254.32" x2="156.80" y2="254.32" stroke="#000" stroke-width="1.4"/>
<line x1="172.80" y1="267.72" x2="172.80" y2="252.12" stroke="#000" stroke-width="1.3"/>
<line x1="168.80" y1="252.12" x2="176.80" y2="252.12" stroke="#000" stroke-width="1.4"/>
<path d="M29.60,357.40L32.80,354.40L36.00,357.40L32.80,360.40Z" fill="#000"/>
<path d="M39.60,357.40L42.80,354.40L46.00,357.40L42.80,360.40Z" fill="#000"/>
<path d="M49.60,357.40L52.80,354.40L56.00,357.40L52.80,360.40Z" fill="#000"/>
<path d="M59.60,357.40L62.80,354.40L66.00,357.40L62.80,360.40Z" fill="#000"/>
<path d="M69.60,357.40L72.80,354.40L76.00,357.40L72.80,360.40Z" fill="#000"/>
<path d="M89.60,353.57L92.80,350.57L96.00,353.57L92.80,356.57Z" fill="#000"/>
<path d="M109.60,353.57L112.80,350.57L116.00,353.57L112.80,356.57Z" fill="#000"/>
<path d="M129.60,356.52L132.80,353.52L136.00,356.52L132.80,359.52Z" fill="#000"/>
<path d="M149.60,356.52L152.80,353.52L156.00,356.52L152.80,359.52Z" fill="#000"/>
<path d="M169.60,353.57L172.80,350.57L176.00,353.57L172.80,356.57Z" fill="#000"/>
<path d="M189.60,353.57L192.80,350.57L196.00,353.57L192.80,356.57Z" fill="#000"/>
<path d="M209.60,353.57L212.80,350.57L216.00,353.57L212.80,356.57Z" fill="#000"/>
<path d="M229.60,353.57L232.80,350.57L236.00,353.57L232.80,356.57Z" fill="#000"/>
<path d="M30.00,355.24L35.60,355.24L32.80,360.04Z" fill="#000"/>
<path d="M40.00,355.24L45.60,355.24L42.80,360.04Z" fill="#000"/>
<path d="M50.00,355.24L55.60,355.24L52.80,360.04Z" fill="#000"/>
<path d="M60.00,355.24L65.60,355.24L62.80,360.04Z" fill="#000"/>
<path d="M70.00,355.24L75.60,355.24L72.80,360.04Z" fill="#000"/>
<path d="M90.00,351.41L95.60,351.41L92.80,356.21Z" fill="#000"/>
<path d="M110.00,351.41L115.60,351.41L112.80,356.21Z" fill="#000"/>
<path d="M130.00,354.36L135.60,354.36L132.80,359.16Z" fill="#000"/>
<path d="M150.00,354.36L155.60,354.36L152.80,359.16Z" fill="#000"/>
<path d="M170.00,351.41L175.60,351.41L172.80,356.21Z" fill="#000"/>
<path d="M190.00,351.41L195.60,351.41L192.80,356.21Z" fill="#000"/>
<path d="M210.00,351.41L215.60,351.41L212.80,356.21Z" fill="#000"/>
<path d="M230.00,351.41L235.60,351.41L232.80,356.21Z" fill="#000"/>
<rect x="30.20" y="354.80" width="5.20" height="5.20" fill="#000"/>
<rect x="40.20" y="342.73" width="5.20" height="5.20" fill="#000"/>
<rect x="50.20" y="330.80" width="5.20" height="5.20" fill="#000"/>
<rect x="60.20" y="314.75" width="5.20" height="5.20" fill="#000"/>
<rect x="70.20" y="297.96" width="5.20" height="5.20" fill="#000"/>
<rect x="90.20" y="283.83" width="5.20" height="5.20" fill="#000"/>
<rect x="110.20" y="273.22" width="5.20" height="5.20" fill="#000"/>
<rect x="130.20" y="264.98" width="5.20" height="5.20" fill="#000"/>
<rect x="150.20" y="264.98" width="5.20" height="5.20" fill="#000"/>
<rect x="170.20" y="258.65" width="5.20" height="5.20" fill="#000"/>
<rect x="190.20" y="254.08" width="5.20" height="5.20" fill="#000"/>
<rect x="210.20" y="250.99" width="5.20" height="5.20" fill="#000"/>
<rect x="230.20" y="250.55" width="5.20" height="5.20" fill="#000"/>
<rect x="30.50" y="355.10" width="4.60" height="4.60" fill="#fff" stroke="#000" stroke-width="1.4"/>
<rect x="40.50" y="348.47" width="4.60" height="4.60" fill="#fff" stroke="#000" stroke-width="1.4"/>
<rect x="50.50" y="334.34" width="4.60" height="4.60" fill="#fff" stroke="#000" stroke-width="1.4"/>
<rect x="60.50" y="315.05" width="4.60" height="4.60" fill="#fff" stroke="#000" stroke-width="1.4"/>
<rect x="70.50" y="302.09" width="4.60" height="4.60" fill="#fff" stroke="#000" stroke-width="1.4"/>
<rect x="90.50" y="292.67" width="4.60" height="4.60" fill="#fff" stroke="#000" stroke-width="1.4"/>
<rect x="110.50" y="282.51" width="4.60" height="4.60" fill="#fff" stroke="#000" stroke-width="1.4"/>
<rect x="130.50" y="268.96" width="4.60" height="4.60" fill="#fff" stroke="#000" stroke-width="1.4"/>
<rect x="150.50" y="265.28" width="4.60" height="4.60" fill="#fff" stroke="#000" stroke-width="1.4"/>
<rect x="170.50" y="265.42" width="4.60" height="4.60" fill="#fff" stroke="#000" stroke-width="1.4"/>
<rect x="190.50" y="257.33" width="4.60" height="4.60" fill="#fff" stroke="#000" stroke-width="1.4"/>
<rect x="210.50" y="257.33" width="4.60" height="4.60" fill="#fff" stroke="#000" stroke-width="1.4"/>
<rect x="230.50" y="254.97" width="4.60" height="4.60" fill="#fff" stroke="#000" stroke-width="1.4"/>
<text x="398.40" y="211.40" text-anchor="middle" font-size="13.3" font-weight="bold">GPIbα Δ569-610</text>
<line x1="312.40" y1="224.40" x2="312.40" y2="357.40" stroke="#000" stroke-width="1.2"/>
<line x1="311.80" y1="356.80" x2="513.50" y2="356.80" stroke="#000" stroke-width="1.2"/>
<line x1="310.40" y1="356.80" x2="312.40" y2="356.80" stroke="#000" stroke-width="1"/>
<text x="307.05" y="358.53" text-anchor="end" font-size="6.5" font-weight="bold">0</text>
<line x1="310.40" y1="327.35" x2="312.40" y2="327.35" stroke="#000" stroke-width="1"/>
<text x="307.05" y="329.08" text-anchor="end" font-size="6.5" font-weight="bold">20</text>
<line x1="310.40" y1="297.90" x2="312.40" y2="297.90" stroke="#000" stroke-width="1"/>
<text x="307.05" y="299.63" text-anchor="end" font-size="6.5" font-weight="bold">40</text>
<line x1="310.40" y1="268.45" x2="312.40" y2="268.45" stroke="#000" stroke-width="1"/>
<text x="307.05" y="270.18" text-anchor="end" font-size="6.5" font-weight="bold">60</text>
<line x1="310.40" y1="239.00" x2="312.40" y2="239.00" stroke="#000" stroke-width="1"/>
<text x="307.05" y="240.73" text-anchor="end" font-size="6.5" font-weight="bold">80</text>
<line x1="312.90" y1="356.80" x2="312.90" y2="359.10" stroke="#000" stroke-width="1"/>
<text x="312.90" y="367.05" text-anchor="middle" font-size="6.5" font-weight="bold">0</text>
<line x1="332.90" y1="356.80" x2="332.90" y2="359.10" stroke="#000" stroke-width="1"/>
<text x="332.90" y="367.05" text-anchor="middle" font-size="6.5" font-weight="bold">1</text>
<line x1="352.90" y1="356.80" x2="352.90" y2="359.10" stroke="#000" stroke-width="1"/>
<text x="352.90" y="367.05" text-anchor="middle" font-size="6.5" font-weight="bold">2</text>
<line x1="372.90" y1="356.80" x2="372.90" y2="359.10" stroke="#000" stroke-width="1"/>
<text x="372.90" y="367.05" text-anchor="middle" font-size="6.5" font-weight="bold">3</text>
<line x1="392.90" y1="356.80" x2="392.90" y2="359.10" stroke="#000" stroke-width="1"/>
<text x="392.90" y="367.05" text-anchor="middle" font-size="6.5" font-weight="bold">4</text>
<line x1="412.90" y1="356.80" x2="412.90" y2="359.10" stroke="#000" stroke-width="1"/>
<text x="412.90" y="367.05" text-anchor="middle" font-size="6.5" font-weight="bold">5</text>
<line x1="432.90" y1="356.80" x2="432.90" y2="359.10" stroke="#000" stroke-width="1"/>
<text x="432.90" y="367.05" text-anchor="middle" font-size="6.5" font-weight="bold">6</text>
<line x1="452.90" y1="356.80" x2="452.90" y2="359.10" stroke="#000" stroke-width="1"/>
<text x="452.90" y="367.05" text-anchor="middle" font-size="6.5" font-weight="bold">7</text>
<line x1="472.90" y1="356.80" x2="472.90" y2="359.10" stroke="#000" stroke-width="1"/>
<text x="472.90" y="367.05" text-anchor="middle" font-size="6.5" font-weight="bold">8</text>
<line x1="492.90" y1="356.80" x2="492.90" y2="359.10" stroke="#000" stroke-width="1"/>
<text x="492.90" y="367.05" text-anchor="middle" font-size="6.5" font-weight="bold">9</text>
<line x1="512.90" y1="356.80" x2="512.90" y2="359.10" stroke="#000" stroke-width="1"/>
<text x="512.90" y="367.05" text-anchor="middle" font-size="6.5" font-weight="bold">10</text>
<text x="412.00" y="379.40" text-anchor="middle" font-size="8.9" font-weight="bold">Time (min)</text>
<text transform="translate(288.40,297.90) rotate(-90)" x="0" y="0" text-anchor="middle" font-size="8.9" font-weight="bold">Number of adherent cells</text>
<path d="M312.90,356.80 C314.57,354.64 319.57,347.77 322.90,343.84 C326.23,339.92 329.57,337.07 332.90,333.24 C336.23,329.41 339.57,324.48 342.90,320.87 C346.23,317.26 347.90,315.15 352.90,311.59 C357.90,308.04 366.23,303.57 372.90,299.52 C379.57,295.47 386.23,291.84 392.90,287.30 C399.57,282.76 406.23,275.91 412.90,272.28 C419.57,268.65 426.23,267.81 432.90,265.50 C439.57,263.20 446.23,260.62 452.90,258.44 C459.57,256.25 466.23,253.80 472.90,252.40 C479.57,251.00 486.23,250.58 492.90,250.04 C499.57,249.50 509.57,249.31 512.90,249.16" fill="none" stroke="#000" stroke-width="1.90"/>
<path d="M312.90,356.80 C314.57,355.11 319.57,350.57 322.90,346.64 C326.23,342.71 329.57,337.95 332.90,333.24 C336.23,328.53 339.57,321.98 342.90,318.37 C346.23,314.76 347.90,314.74 352.90,311.59 C357.90,308.45 366.23,303.57 372.90,299.52 C379.57,295.47 386.23,291.00 392.90,287.30 C399.57,283.59 406.23,280.43 412.90,277.29 C419.57,274.14 426.23,270.76 432.90,268.45 C439.57,266.14 446.23,265.11 452.90,263.44 C459.57,261.77 466.23,259.81 472.90,258.44 C479.57,257.06 486.23,255.98 492.90,255.20 C499.57,254.41 509.57,253.97 512.90,253.73" fill="none" stroke="#000" stroke-width="1.90"/>
<path d="M312.90,356.80 C314.57,356.70 319.57,356.55 322.90,356.21 C326.23,355.87 329.57,354.98 332.90,354.74 C336.23,354.49 339.57,354.98 342.90,354.74 C346.23,354.49 347.90,353.76 352.90,353.27 C357.90,352.78 366.23,352.24 372.90,351.79 C379.57,351.35 386.23,350.86 392.90,350.62 C399.57,350.37 406.23,350.37 412.90,350.32 C419.57,350.27 426.23,350.57 432.90,350.32 C439.57,350.08 446.23,348.85 452.90,348.85 C459.57,348.85 466.23,350.32 472.90,350.32 C479.57,350.32 486.23,349.09 492.90,348.85 C499.57,348.60 509.57,348.85 512.90,348.85" fill="none" stroke="#000" stroke-width="1.40"/>
<line x1="322.90" y1="343.84" x2="322.90" y2="338.98" stroke="#000" stroke-width="1.3"/>
<line x1="318.90" y1="338.98" x2="326.90" y2="338.98" stroke="#000" stroke-width="1.4"/>
<line x1="342.90" y1="320.87" x2="342.90" y2="310.86" stroke="#000" stroke-width="1.3"/>
<line x1="338.90" y1="310.86" x2="346.90" y2="310.86" stroke="#000" stroke-width="1.4"/>
<line x1="352.90" y1="311.59" x2="352.90" y2="303.64" stroke="#000" stroke-width="1.3"/>
<line x1="348.90" y1="303.64" x2="356.90" y2="303.64" stroke="#000" stroke-width="1.4"/>
<line x1="372.90" y1="299.52" x2="372.90" y2="292.60" stroke="#000" stroke-width="1.3"/>
<line x1="368.90" y1="292.60" x2="376.90" y2="292.60" stroke="#000" stroke-width="1.4"/>
<line x1="392.90" y1="287.30" x2="392.90" y2="278.32" stroke="#000" stroke-width="1.3"/>
<line x1="388.90" y1="278.32" x2="396.90" y2="278.32" stroke="#000" stroke-width="1.4"/>
<line x1="412.90" y1="272.28" x2="412.90" y2="257.85" stroke="#000" stroke-width="1.3"/>
<line x1="408.90" y1="257.85" x2="416.90" y2="257.85" stroke="#000" stroke-width="1.4"/>
<line x1="432.90" y1="265.50" x2="432.90" y2="250.93" stroke="#000" stroke-width="1.3"/>
<line x1="428.90" y1="250.93" x2="436.90" y2="250.93" stroke="#000" stroke-width="1.4"/>
<line x1="452.90" y1="258.44" x2="452.90" y2="240.33" stroke="#000" stroke-width="1.3"/>
<line x1="448.90" y1="240.33" x2="456.90" y2="240.33" stroke="#000" stroke-width="1.4"/>
<line x1="472.90" y1="252.40" x2="472.90" y2="235.47" stroke="#000" stroke-width="1.3"/>
<line x1="468.90" y1="235.47" x2="476.90" y2="235.47" stroke="#000" stroke-width="1.4"/>
<line x1="492.90" y1="250.04" x2="492.90" y2="233.99" stroke="#000" stroke-width="1.3"/>
<line x1="488.90" y1="233.99" x2="496.90" y2="233.99" stroke="#000" stroke-width="1.4"/>
<line x1="512.90" y1="249.16" x2="512.90" y2="233.99" stroke="#000" stroke-width="1.3"/>
<line x1="508.90" y1="233.99" x2="516.90" y2="233.99" stroke="#000" stroke-width="1.4"/>
<line x1="392.90" y1="287.30" x2="392.90" y2="281.26" stroke="#000" stroke-width="1.3"/>
<line x1="388.90" y1="281.26" x2="396.90" y2="281.26" stroke="#000" stroke-width="1.4"/>
<line x1="412.90" y1="277.29" x2="412.90" y2="267.27" stroke="#000" stroke-width="1.3"/>
<line x1="408.90" y1="267.27" x2="416.90" y2="267.27" stroke="#000" stroke-width="1.4"/>
<line x1="432.90" y1="268.45" x2="432.90" y2="258.73" stroke="#000" stroke-width="1.3"/>
<line x1="428.90" y1="258.73" x2="436.90" y2="258.73" stroke="#000" stroke-width="1.4"/>
<line x1="452.90" y1="263.44" x2="452.90" y2="252.84" stroke="#000" stroke-width="1.3"/>
<line x1="448.90" y1="252.84" x2="456.90" y2="252.84" stroke="#000" stroke-width="1.4"/>
<path d="M309.70,356.80L312.90,353.80L316.10,356.80L312.90,359.80Z" fill="#000"/>
<path d="M319.70,356.21L322.90,353.21L326.10,356.21L322.90,359.21Z" fill="#000"/>
<path d="M329.70,354.74L332.90,351.74L336.10,354.74L332.90,357.74Z" fill="#000"/>
<path d="M339.70,354.74L342.90,351.74L346.10,354.74L342.90,357.74Z" fill="#000"/>
<path d="M349.70,353.27L352.90,350.27L356.10,353.27L352.90,356.27Z" fill="#000"/>
<path d="M369.70,351.79L372.90,348.79L376.10,351.79L372.90,354.79Z" fill="#000"/>
<path d="M389.70,350.62L392.90,347.62L396.10,350.62L392.90,353.62Z" fill="#000"/>
<path d="M409.70,350.32L412.90,347.32L416.10,350.32L412.90,353.32Z" fill="#000"/>
<path d="M429.70,350.32L432.90,347.32L436.10,350.32L432.90,353.32Z" fill="#000"/>
<path d="M449.70,348.85L452.90,345.85L456.10,348.85L452.90,351.85Z" fill="#000"/>
<path d="M469.70,350.32L472.90,347.32L476.10,350.32L472.90,353.32Z" fill="#000"/>
<path d="M489.70,348.85L492.90,345.85L496.10,348.85L492.90,351.85Z" fill="#000"/>
<path d="M509.70,348.85L512.90,345.85L516.10,348.85L512.90,351.85Z" fill="#000"/>
<rect x="310.60" y="354.50" width="4.60" height="4.60" fill="#fff" stroke="#000" stroke-width="1.4"/>
<rect x="320.60" y="344.34" width="4.60" height="4.60" fill="#fff" stroke="#000" stroke-width="1.4"/>
<rect x="330.60" y="330.94" width="4.60" height="4.60" fill="#fff" stroke="#000" stroke-width="1.4"/>
<rect x="340.60" y="316.07" width="4.60" height="4.60" fill="#fff" stroke="#000" stroke-width="1.4"/>
<rect x="350.60" y="309.29" width="4.60" height="4.60" fill="#fff" stroke="#000" stroke-width="1.4"/>
<rect x="370.60" y="297.22" width="4.60" height="4.60" fill="#fff" stroke="#000" stroke-width="1.4"/>
<rect x="390.60" y="285.00" width="4.60" height="4.60" fill="#fff" stroke="#000" stroke-width="1.4"/>
<rect x="410.60" y="274.99" width="4.60" height="4.60" fill="#fff" stroke="#000" stroke-width="1.4"/>
<rect x="430.60" y="266.15" width="4.60" height="4.60" fill="#fff" stroke="#000" stroke-width="1.4"/>
<rect x="450.60" y="261.14" width="4.60" height="4.60" fill="#fff" stroke="#000" stroke-width="1.4"/>
<rect x="470.60" y="256.14" width="4.60" height="4.60" fill="#fff" stroke="#000" stroke-width="1.4"/>
<rect x="490.60" y="252.90" width="4.60" height="4.60" fill="#fff" stroke="#000" stroke-width="1.4"/>
<rect x="510.60" y="251.43" width="4.60" height="4.60" fill="#fff" stroke="#000" stroke-width="1.4"/>
<rect x="310.30" y="354.20" width="5.20" height="5.20" fill="#000"/>
<rect x="320.30" y="341.24" width="5.20" height="5.20" fill="#000"/>
<rect x="330.30" y="330.64" width="5.20" height="5.20" fill="#000"/>
<rect x="340.30" y="318.27" width="5.20" height="5.20" fill="#000"/>
<rect x="350.30" y="308.99" width="5.20" height="5.20" fill="#000"/>
<rect x="370.30" y="296.92" width="5.20" height="5.20" fill="#000"/>
<rect x="390.30" y="284.70" width="5.20" height="5.20" fill="#000"/>
<rect x="410.30" y="269.68" width="5.20" height="5.20" fill="#000"/>
<rect x="430.30" y="262.90" width="5.20" height="5.20" fill="#000"/>
<rect x="450.30" y="255.84" width="5.20" height="5.20" fill="#000"/>
<rect x="470.30" y="249.80" width="5.20" height="5.20" fill="#000"/>
<rect x="490.30" y="247.44" width="5.20" height="5.20" fill="#000"/>
<rect x="510.30" y="246.56" width="5.20" height="5.20" fill="#000"/>
</svg>
</body></html>
